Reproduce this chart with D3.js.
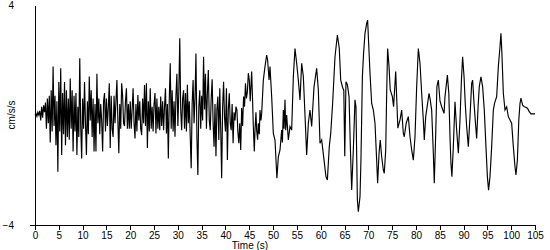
<!DOCTYPE html>
<html>
<head>
<meta charset="utf-8">
<script src="https://cdn.jsdelivr.net/npm/d3@7"></script>
<style>
  body { margin: 0; background: #fff; }
  .axis text { font-family: "Liberation Sans", Arial, sans-serif; font-size: 10px; fill: #000; }
  .axis path, .axis line { stroke: #000; shape-rendering: crispEdges; }
  .trace { fill: none; stroke: #000; stroke-width: 1.15; }
  .label { font-family: "Liberation Sans", Arial, sans-serif; font-size: 10px; }
</style>
</head>
<body>
<div id="chart"></div>
<script>
// early record: noisy part, one sample every 0.2 s from t = 0
var earlyStep = 0.2;
var earlyAccel = [
  0.0, 0.05, -0.05, 0.1, 0.0, 0.15,
  -0.2, 0.3, -0.1, 0.35, 0.1,
  0.45, -0.5, 0.6, -0.3, 0.7,
  -1.0, 0.9, -0.6, 1.76, -0.4,
  0.7, -1.1, 0.5, -2.06, 1.2,
  -0.6, 1.7, -1.45, 0.8, -0.7,
  1.2, -1.1, 0.9, -0.8, 0.6,
  -0.9, 1.33, -0.5, 0.9, -1.33,
  0.7, -0.6, 0.8, -1.45, 0.3,
  -0.8, 2.06, -0.4, -1.58, 0.6,
  -0.5, 1.2, -0.3, -1.45, 0.5,
  -0.7, 1.4, -0.2, 0.9, -0.8,
  0.6, -1.33, 0.4, -1.33, 1.5,
  -0.3, 0.6, -0.7, 0.4, -0.2,
  -1.33, 0.5, 0.8, -0.6, 0.6,
  -0.4, 0.3, 1.15, -1.2, 0.7,
  -0.5, -0.8, 0.7, -0.3, 0.5,
  1.27, -0.2, -1.39, 0.4, -0.5,
  1.15, 0.7, -0.3, -0.4, 0.5,
  0.97, -0.5, 0.4, -0.5, 0.5,
  -0.5, 0.2, 0.97, -0.3, -0.85,
  0.4, -0.6, 0.73, -0.2, 0.5,
  -0.5, -0.73, 0.6, -0.3, 1.09,
  -0.4, 1.15, -1.2, 0.5, -0.6,
  0.97, -0.5, 0.3, -0.6, 0.4,
  0.8, -0.67, 0.6, -0.5, 0.3,
  -0.55, 0.67, -0.4, 0.5, -0.55,
  0.3, 0.97, -0.67, 0.4, -1.58,
  0.6, 1.88, -0.5, 0.9, -0.6,
  0.5, -0.79, 0.7, 1.5, -0.4,
  0.8, 2.79, 0.2, -0.55, 0.6,
  0.9, -0.5, 0.8, -0.6, 1.1,
  -0.3, 0.5, -0.8, -1.94, 0.4,
  1.27, -0.3, 0.6, 2.24, -0.8,
  -2.18, 0.3, 0.9, -0.5, 0.7,
  -0.2, 2.12, 0.2, 1.5, -0.5,
  0.8, 1.64, -0.2, -0.55, 0.6,
  1.3, -0.3, -1.15, 0.4, -1.5,
  0.2, 0.67, -0.91, 0.97, -0.5,
  -2.3, 0.3, 1.21, -0.1, -0.6,
  0.97, -1.64, 0.2, 0.79, -0.3,
  -0.55, 0.4, -1.03, 0.1, -0.2,
  0.3, 0.2, -0.6, -1.03, -0.3,
  -1.27, 0.25, -0.4, 0.67, 0.3,
  1.15, 0.6, 0.85, 1.52
];

// later record: slower swings, read at irregular times (s)
var lateTimes = [
  45.0, 45.2, 45.5, 45.7, 45.85, 46.05, 46.2, 46.4, 46.55, 46.75, 46.9, 47.1, 47.25, 47.45, 47.6,
  47.95, 48.3, 48.65, 48.85, 49.15, 49.35, 49.7, 50.05, 50.4, 50.6, 50.8, 51.1, 51.45, 51.8, 51.95,
  52.15, 52.3, 52.5, 52.65, 52.85, 53.2, 53.55, 53.9, 54.25, 54.6, 54.95, 55.3, 55.65, 56.0, 56.35,
  56.7, 57.05, 57.4, 57.75, 58.1, 58.6, 59.15, 59.5, 59.85, 60.2, 60.7, 61.1, 61.4, 61.8, 62.1,
  62.5, 63.0, 63.5, 63.9, 64.2, 64.6, 64.85, 65.05, 65.3, 65.6, 65.95, 66.2, 66.5, 66.85, 67.2,
  67.4, 67.7, 67.9, 68.25, 68.45, 68.75, 69.0, 69.3, 69.65, 69.85, 70.1, 70.35, 70.7, 71.05, 71.4,
  71.75, 71.95, 72.25, 72.5, 72.8, 73.15, 73.35, 73.65, 73.85, 74.05, 74.35, 74.6, 75.05, 75.3, 75.75,
  76.0, 76.2, 76.65, 77.0, 77.35, 77.55, 77.95, 78.4, 78.75, 79.1, 79.45, 79.8, 80.15, 80.5, 80.85,
  81.2, 81.55, 81.75, 82.05, 82.45, 82.75, 83.0, 83.3, 83.65, 83.85, 84.15, 84.4, 84.7, 85.05, 85.4,
  85.9, 86.1, 86.6, 86.9, 87.15, 87.35, 87.55, 87.85, 88.2, 88.55, 88.9, 89.25, 89.55, 89.8, 90.1,
  90.35, 90.65, 91.0, 91.35, 91.7, 91.9, 92.2, 92.5, 92.75, 93.05, 93.3, 93.65, 94.0, 94.35, 94.7,
  95.0, 95.25, 95.55, 95.9, 96.25, 96.5, 96.95, 97.3, 97.65, 97.85, 98.05, 98.35, 98.7, 99.05, 99.4,
  99.75, 100.1, 100.45, 100.8, 101.0, 101.3, 101.6, 101.85, 102.05, 102.4, 102.75, 103.1, 103.45, 103.8, 104.15,
  105.0
];
var lateAccel = [
  1.27, 0.5, 1.58, 0.48, -0.42, -1.33, -0.55, 0.1, -0.55, -0.9, -0.3, -0.7, 0.18, -0.2, 0.05,
  1.27, 1.76, 2.18, 2.0, 1.27, 1.76, 0.67, -0.67, -0.91, -1.6, -2.3, -1.52, -1.27, -0.55, -1.0,
  0.18, -0.5, 0.55, -0.55, 0.0, -0.91, -0.42, -0.55, 1.39, 2.42, 1.88, 1.27, 0.55, 1.88, 1.4,
  0.0, -1.45, -0.3, 0.18, -0.42, 1.03, 1.7, 0.91, -1.03, -0.91, -1.64, -2.24, -2.36, -1.15, -0.67,
  0.42, 2.12, 2.91, 2.42, 1.27, 1.0, 0.9, -1.5, 1.21, 1.1, 0.67, -1.03, -2.73, -1.27, 0.55,
  0.3, -3.09, -3.52, -2.97, -1.64, 1.39, 2.24, 2.97, 3.33, 3.45, 2.48, 1.52, 0.42, 0.18, -0.3,
  -1.64, -2.48, -1.39, -0.91, -1.52, -2.0, -2.12, -1.27, 0.79, 2.42, 1.76, 0.91, 0.67, 0.3, 1.58,
  0.42, -0.48, -0.18, 0.18, -0.67, -0.79, -0.3, -0.06, -0.79, -1.27, -1.64, -0.79, 1.03, 2.42, 1.88,
  0.79, -0.18, -0.91, -0.06, 0.42, 0.79, 0.55, 0.18, -1.39, -2.48, -0.67, 1.03, 1.27, 0.5, 0.3,
  0.06, 0.67, 1.45, 0.79, -0.79, -1.76, -2.24, -1.15, 0.48, -0.55, -1.39, -0.18, 1.27, 2.12, 1.39,
  0.42, -0.42, -1.15, -0.06, 1.15, 1.27, 0.42, -0.3, -0.85, 0.3, 1.03, 1.39, 1.03, 0.18, -1.15,
  -2.24, -2.73, -2.24, -1.15, 0.18, 0.42, 0.67, 1.76, 2.48, 2.97, 2.24, 0.79, 0.18, 0.3, -0.06,
  -0.18, -0.3, -1.15, -1.88, -2.18, -1.64, -0.18, 0.42, 0.61, 0.36, 0.3, 0.28, 0.24, 0.12, 0.04,
  0.04
];

var xTicks = d3.range(0, 106, 5);
var yTicks = [-4, 4];

var samples = earlyAccel.map(function(v, i) {
    return {t: i * earlyStep, a: v};
}).concat(lateTimes.map(function(t, i) {
    return {t: t, a: lateAccel[i]};
}));

var margin = {top: 5, right: 15, bottom: 25, left: 35};
var width = 550 - margin.left - margin.right;
var height = 250 - margin.top - margin.bottom;

var svg = d3.select("#chart").append("svg")
    .attr("width", 550)
    .attr("height", 250)
    .append("g")
    .attr("transform", "translate(" + margin.left + "," + margin.top + ")");

var x = d3.scaleLinear().domain([0, 105]).range([0, width]);
var y = d3.scaleLinear().domain([-4, 4]).range([height, 0]);

// x axis
svg.append("g")
    .attr("class", "axis")
    .attr("transform", "translate(0," + height + ")")
    .call(d3.axisBottom(x).tickValues(xTicks).tickSize(5).tickSizeOuter(0).tickPadding(2));

// y axis: only the bottom tick line shows
var yAxis = svg.append("g")
    .attr("class", "axis")
    .call(d3.axisLeft(y).tickValues(yTicks).tickSize(5).tickSizeOuter(0).tickFormat(d3.format("d")));
yAxis.selectAll(".tick").filter(function(d) { return d === 4; }).select("line").remove();
yAxis.selectAll(".tick text").attr("x", -21).style("text-anchor", "end");

svg.append("text")
    .attr("class", "label")
    .attr("x", 215)
    .attr("y", height + 24)
    .attr("text-anchor", "middle")
    .text("Time (s)");

svg.append("text")
    .attr("class", "label")
    .attr("transform", "translate(-20," + (height / 2) + ") rotate(-90)")
    .attr("text-anchor", "middle")
    .text("cm/s/s");

var line = d3.line()
    .x(function(d) { return x(d.t); })
    .y(function(d) { return y(d.a); })
    .curve(d3.curveLinear);

svg.append("path")
    .datum(samples)
    .attr("class", "trace")
    .attr("d", line);
</script>
</body>
</html>
